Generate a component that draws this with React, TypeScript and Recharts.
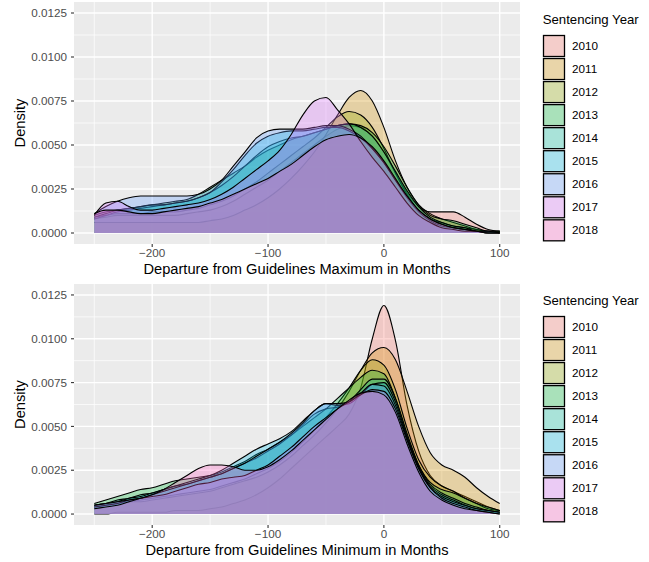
import React from 'react';
import { AreaChart, Area, XAxis, YAxis, CartesianGrid, Label } from 'recharts';

// departure in months, shared grid for every density curve
const XS = [
  -250, -240, -230, -220, -210, -200, -190, -180, -170, -160, -150, -140,
  -130, -120, -110, -100, -90, -80, -70, -60, -50, -40, -30, -20, -10, 0,
  10, 20, 30, 40, 50, 60, 70, 80, 90, 100,
];

const YEARS = ['2010', '2011', '2012', '2013', '2014', '2015', '2016', '2017', '2018'];
const FILLS = ['#F8766D', '#D39200', '#93AA00', '#00BA38', '#00C19F', '#00B9E3', '#619CFF', '#DB72FB', '#FF61C3'];

// departure from guidelines maximum
const MAX_2010 = [0.0008,0.0009,0.0010,0.0010,0.0010,0.0010,0.0010,0.0010,0.0011,0.0012,0.0013,0.0015,0.0018,0.0022,0.0026,0.0030,0.0035,0.0040,0.0045,0.0050,0.0055,0.0059,0.0061,0.0060,0.0055,0.0046,0.0034,0.0023,0.0015,0.0012,0.0012,0.0012,0.0009,0.0005,0.0002,0.0001];
const MAX_2011 = [0.0006,0.0006,0.0006,0.0006,0.0006,0.0006,0.0006,0.0006,0.0006,0.0006,0.0007,0.0008,0.0010,0.0013,0.0016,0.0020,0.0025,0.0031,0.0038,0.0046,0.0056,0.0067,0.0077,0.0081,0.0075,0.0060,0.0041,0.0026,0.0016,0.0011,0.0008,0.0006,0.0004,0.0002,0.0001,0.0001];
const MAX_2012 = [0.0009,0.0010,0.0011,0.0011,0.0011,0.0012,0.0012,0.0012,0.0013,0.0014,0.0016,0.0018,0.0021,0.0025,0.0029,0.0034,0.0039,0.0044,0.0049,0.0054,0.0060,0.0066,0.0069,0.0067,0.0060,0.0048,0.0034,0.0022,0.0013,0.0008,0.0006,0.0004,0.0003,0.0002,0.0001,0.0001];
const MAX_2013 = [0.0010,0.0012,0.0013,0.0014,0.0015,0.0016,0.0017,0.0018,0.0019,0.0022,0.0026,0.0030,0.0034,0.0038,0.0043,0.0047,0.0050,0.0053,0.0055,0.0057,0.0059,0.0061,0.0062,0.0061,0.0057,0.0049,0.0038,0.0026,0.0016,0.0010,0.0008,0.0007,0.0005,0.0003,0.0001,0.0001];
const MAX_2014 = [0.0008,0.0010,0.0012,0.0013,0.0014,0.0015,0.0016,0.0017,0.0018,0.0020,0.0023,0.0027,0.0032,0.0038,0.0044,0.0049,0.0052,0.0054,0.0055,0.0057,0.0059,0.0061,0.0062,0.0060,0.0055,0.0046,0.0035,0.0024,0.0015,0.0009,0.0006,0.0004,0.0003,0.0001,0.0001,0.0000];
const MAX_2015 = [0.0009,0.0011,0.0013,0.0014,0.0015,0.0016,0.0016,0.0017,0.0018,0.0020,0.0023,0.0029,0.0036,0.0044,0.0051,0.0055,0.0057,0.0058,0.0058,0.0059,0.0060,0.0060,0.0058,0.0054,0.0048,0.0040,0.0030,0.0020,0.0012,0.0007,0.0004,0.0003,0.0002,0.0001,0.0000,0.0000];
const MAX_2016 = [0.0011,0.0015,0.0018,0.0020,0.0021,0.0021,0.0021,0.0021,0.0021,0.0022,0.0025,0.0030,0.0038,0.0046,0.0054,0.0058,0.0059,0.0059,0.0059,0.0060,0.0061,0.0061,0.0059,0.0055,0.0048,0.0040,0.0030,0.0021,0.0013,0.0008,0.0005,0.0003,0.0002,0.0001,0.0001,0.0000];
const MAX_2017 = [0.0010,0.0017,0.0018,0.0015,0.0013,0.0013,0.0014,0.0015,0.0016,0.0017,0.0019,0.0022,0.0026,0.0031,0.0036,0.0041,0.0047,0.0056,0.0067,0.0075,0.0077,0.0070,0.0062,0.0052,0.0043,0.0035,0.0026,0.0017,0.0010,0.0006,0.0003,0.0002,0.0001,0.0001,0.0000,0.0000];
const MAX_2018 = [0.0011,0.0013,0.0013,0.0012,0.0011,0.0011,0.0012,0.0013,0.0014,0.0015,0.0017,0.0019,0.0022,0.0025,0.0028,0.0031,0.0035,0.0039,0.0044,0.0049,0.0053,0.0055,0.0056,0.0054,0.0049,0.0041,0.0031,0.0021,0.0013,0.0008,0.0005,0.0003,0.0002,0.0001,0.0000,0.0000];

// departure from guidelines minimum
const MIN_2010 = [0.0000,0.0000,0.0001,0.0001,0.0001,0.0001,0.0001,0.0002,0.0002,0.0002,0.0003,0.0004,0.0006,0.0008,0.0011,0.0015,0.0020,0.0026,0.0032,0.0038,0.0044,0.0050,0.0057,0.0072,0.0100,0.0119,0.0099,0.0062,0.0036,0.0022,0.0016,0.0013,0.0010,0.0007,0.0004,0.0002];
const MIN_2011 = [0.0004,0.0005,0.0006,0.0007,0.0007,0.0008,0.0009,0.0010,0.0011,0.0012,0.0013,0.0015,0.0017,0.0019,0.0021,0.0024,0.0028,0.0033,0.0039,0.0045,0.0052,0.0060,0.0070,0.0082,0.0092,0.0095,0.0088,0.0070,0.0050,0.0035,0.0028,0.0025,0.0021,0.0015,0.0010,0.0006];
const MIN_2012 = [0.0004,0.0005,0.0006,0.0007,0.0008,0.0009,0.0010,0.0011,0.0012,0.0013,0.0014,0.0016,0.0018,0.0020,0.0023,0.0026,0.0030,0.0035,0.0041,0.0048,0.0055,0.0063,0.0072,0.0082,0.0088,0.0085,0.0071,0.0049,0.0031,0.0021,0.0016,0.0013,0.0009,0.0006,0.0003,0.0002];
const MIN_2013 = [0.0006,0.0008,0.0010,0.0012,0.0014,0.0015,0.0017,0.0019,0.0020,0.0021,0.0022,0.0024,0.0027,0.0030,0.0034,0.0037,0.0041,0.0045,0.0050,0.0055,0.0060,0.0066,0.0072,0.0078,0.0082,0.0080,0.0066,0.0045,0.0028,0.0018,0.0014,0.0012,0.0009,0.0006,0.0004,0.0002];
const MIN_2014 = [0.0005,0.0006,0.0008,0.0009,0.0011,0.0012,0.0014,0.0016,0.0017,0.0019,0.0021,0.0023,0.0026,0.0029,0.0032,0.0036,0.0040,0.0045,0.0051,0.0057,0.0060,0.0061,0.0064,0.0071,0.0077,0.0077,0.0066,0.0046,0.0028,0.0017,0.0012,0.0009,0.0006,0.0004,0.0002,0.0001];
const MIN_2015 = [0.0005,0.0006,0.0007,0.0009,0.0010,0.0012,0.0014,0.0016,0.0018,0.0020,0.0022,0.0025,0.0029,0.0033,0.0037,0.0040,0.0043,0.0047,0.0053,0.0059,0.0063,0.0062,0.0063,0.0068,0.0074,0.0075,0.0064,0.0044,0.0027,0.0016,0.0011,0.0008,0.0005,0.0003,0.0002,0.0001];
const MIN_2016 = [0.0004,0.0005,0.0006,0.0008,0.0009,0.0011,0.0013,0.0015,0.0017,0.0019,0.0021,0.0023,0.0026,0.0029,0.0033,0.0037,0.0041,0.0046,0.0052,0.0059,0.0063,0.0063,0.0064,0.0069,0.0074,0.0073,0.0062,0.0043,0.0026,0.0015,0.0010,0.0007,0.0005,0.0003,0.0002,0.0001];
const MIN_2017 = [0.0005,0.0006,0.0007,0.0008,0.0009,0.0010,0.0011,0.0013,0.0015,0.0017,0.0018,0.0020,0.0021,0.0022,0.0025,0.0028,0.0033,0.0038,0.0044,0.0050,0.0055,0.0060,0.0064,0.0068,0.0071,0.0070,0.0060,0.0042,0.0026,0.0015,0.0009,0.0006,0.0004,0.0002,0.0001,0.0000];
const MIN_2018 = [0.0003,0.0004,0.0005,0.0007,0.0009,0.0011,0.0014,0.0018,0.0022,0.0026,0.0028,0.0028,0.0027,0.0025,0.0025,0.0027,0.0031,0.0036,0.0042,0.0048,0.0054,0.0060,0.0065,0.0069,0.0070,0.0068,0.0058,0.0040,0.0024,0.0013,0.0008,0.0005,0.0003,0.0002,0.0001,0.0000];

const MAX_SERIES = [MAX_2010, MAX_2011, MAX_2012, MAX_2013, MAX_2014, MAX_2015, MAX_2016, MAX_2017, MAX_2018];
const MIN_SERIES = [MIN_2010, MIN_2011, MIN_2012, MIN_2013, MIN_2014, MIN_2015, MIN_2016, MIN_2017, MIN_2018];

const X_TICKS = [-200, -100, 0, 100];
const X_MINOR = [-250, -150, -50, 50];
const Y_TICKS = [0, 0.0025, 0.005, 0.0075, 0.01, 0.0125];
const Y_MINOR = [0.00125, 0.00375, 0.00625, 0.00875, 0.01125];

const FONT = '"Liberation Sans", Arial, Helvetica, sans-serif';

const fmtX = (v: number) => (v < 0 ? '\u2212' + Math.abs(v) : String(v));

function Legend() {
  return (
    <svg width={119} height={250} style={{ position: 'absolute', left: 530, top: 0 }}>
      <text x={12.7} y={24.3} fontSize={13.2} fill="#000" fontFamily={FONT}>
        Sentencing Year
      </text>
      {YEARS.map((year, k) => {
        const y = 35.5 + k * 23.04;
        return (
          <g key={year}>
            <rect x={13.5} y={y} width={21} height={21} fill="#F2F2F2" />
            <rect x={13.5} y={y} width={21} height={21} fill={FILLS[k]} fillOpacity={0.3} stroke="#000" strokeWidth={1.3} />
            <text x={42} y={y + 10.5} dy="0.35em" fontSize={11.7} fill="#000" fontFamily={FONT}>
              {year}
            </text>
          </g>
        );
      })}
    </svg>
  );
}

function DensityPanel({ series, title, top, marginTop }: { series: number[][]; title: string; top: number; marginTop: number }) {
  const rows = XS.map((x, i) => {
    const row: Record<string, number> = { x };
    YEARS.forEach((year, k) => {
      row[year] = series[k][i];
    });
    return row;
  });

  return (
    <div style={{ position: 'absolute', left: 0, top, width: 649, height: 281 }}>
      <AreaChart width={530} height={281} data={rows} margin={{ top: marginTop, right: 10, bottom: 0, left: 14 }}>
        <CartesianGrid fill="#EBEBEB" stroke="#FFFFFF" strokeWidth={0.7} horizontalValues={Y_MINOR} verticalValues={X_MINOR} />
        <CartesianGrid stroke="#FFFFFF" strokeWidth={1.4} horizontalValues={Y_TICKS} verticalValues={X_TICKS} />
        <XAxis
          dataKey="x"
          type="number"
          domain={[-267.5, 117.5]}
          ticks={X_TICKS}
          tickFormatter={fmtX}
          axisLine={false}
          tickSize={3}
          tickMargin={2}
          tickLine={{ stroke: '#333333', strokeWidth: 1.1 }}
          tick={{ fill: '#4D4D4D', fontSize: 11.7, fontFamily: FONT }}
          height={37}
          allowDataOverflow
        >
          <Label value={title} position="insideBottom" offset={7} fill="#000" fontSize={14.67} fontFamily={FONT} />
        </XAxis>
        <YAxis
          type="number"
          domain={[-0.000625, 0.013125]}
          ticks={Y_TICKS}
          tickFormatter={(v: number) => v.toFixed(4)}
          axisLine={false}
          tickSize={3}
          tickMargin={4}
          tickLine={{ stroke: '#333333', strokeWidth: 1.1 }}
          tick={{ fill: '#4D4D4D', fontSize: 11.7, fontFamily: FONT }}
          width={60}
          allowDataOverflow
        >
          <Label
            value="Density"
            angle={-90}
            position="insideLeft"
            offset={6}
            fill="#000"
            fontSize={14.67}
            fontFamily={FONT}
            style={{ textAnchor: 'middle' }}
          />
        </YAxis>
        {YEARS.map((year, k) => (
          <Area
            key={year}
            dataKey={year}
            type="monotone"
            baseValue={0}
            fill={FILLS[k]}
            fillOpacity={0.3}
            stroke="#000"
            strokeWidth={1.1}
            dot={false}
            activeDot={false}
            isAnimationActive={false}
          />
        ))}
      </AreaChart>
      <Legend />
    </div>
  );
}

export default function App() {
  return (
    <div style={{ position: 'absolute', left: 0, top: 0, width: 649, height: 562, background: '#FFFFFF', fontFamily: FONT }}>
      <DensityPanel series={MAX_SERIES} title="Departure from Guidelines Maximum in Months" top={0} marginTop={2} />
      <DensityPanel series={MIN_SERIES} title="Departure from Guidelines Minimum in Months" top={281} marginTop={3} />
    </div>
  );
}
